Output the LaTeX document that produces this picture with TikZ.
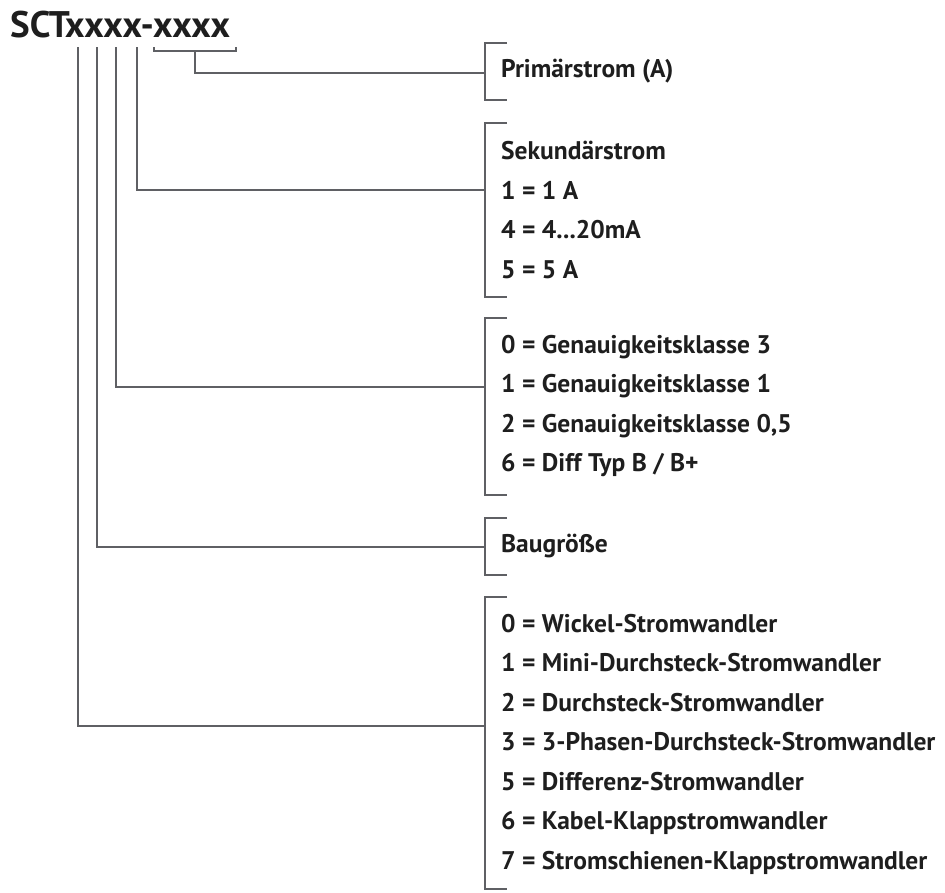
\documentclass[tikz,border=0pt]{standalone}
\usepackage{fontspec}
\setmainfont{PT Sans}
\definecolor{linegray}{RGB}{95,96,100}
\definecolor{textblack}{RGB}{30,30,30}

\begin{document}
\begin{tikzpicture}
  [x=1pt,y=-1pt,line width=2.3pt,
   every node/.style={inner sep=0pt,anchor=west,text=textblack,align=left,
     font=\bfseries\fontsize{25.5}{39.5}\selectfont}]
  \useasboundingbox (0,0) rectangle (945,892);

  \node (code) at (9,25) {\fontsize{37}{37}\selectfont SCTxxxx-xxxx};

  \coordinate (s1) at (78,47);
  \coordinate (s2) at (97,47);
  \coordinate (s3) at (116,47);
  \coordinate (s4) at (137,47);
  \coordinate (s5) at (195,51);

  \coordinate (b1) at (485,73);
  \coordinate (b2) at (485,190);
  \coordinate (b3) at (485,387);
  \coordinate (b4) at (485,547);
  \coordinate (b5) at (485,726);

  \node (prim) at (500,71) {Primärstrom (A)};
  \node (sek) at (500,210) {Sekundärstrom\\1 = 1 A\\4 = 4...20mA\\5 = 5 A};
  \node (gen) at (500,406) {0 = Genauigkeitsklasse 3\\1 = Genauigkeitsklasse 1\\
    2 = Genauigkeitsklasse 0,5\\6 = Diff Typ B / B+};
  \node (bau) at (500,546) {Baugröße};
  \node (typ) at (500,744) {0 = Wickel-Stromwandler\\1 = Mini-Durchsteck-Stromwandler\\
    2 = Durchsteck-Stromwandler\\3 = 3-Phasen-Durchsteck-Stromwandler\\
    5 = Differenz-Stromwandler\\6 = Kabel-Klappstromwandler\\
    7 = Stromschienen-Klappstromwandler};

  \draw[linegray] (154,47) -- (154,51) -- (236,51) -- (236,47);

  \foreach \ya/\yb in {43/100,123/297,318/495,518/575,597/889}
    \draw[linegray] (507,\ya) -- (485,\ya) -- (485,\yb) -- (507,\yb);

  \foreach \from/\to in {s5/b1,s4/b2,s3/b3,s2/b4,s1/b5}
    \draw[linegray] (\from) |- (\to);

\end{tikzpicture}
\end{document}
